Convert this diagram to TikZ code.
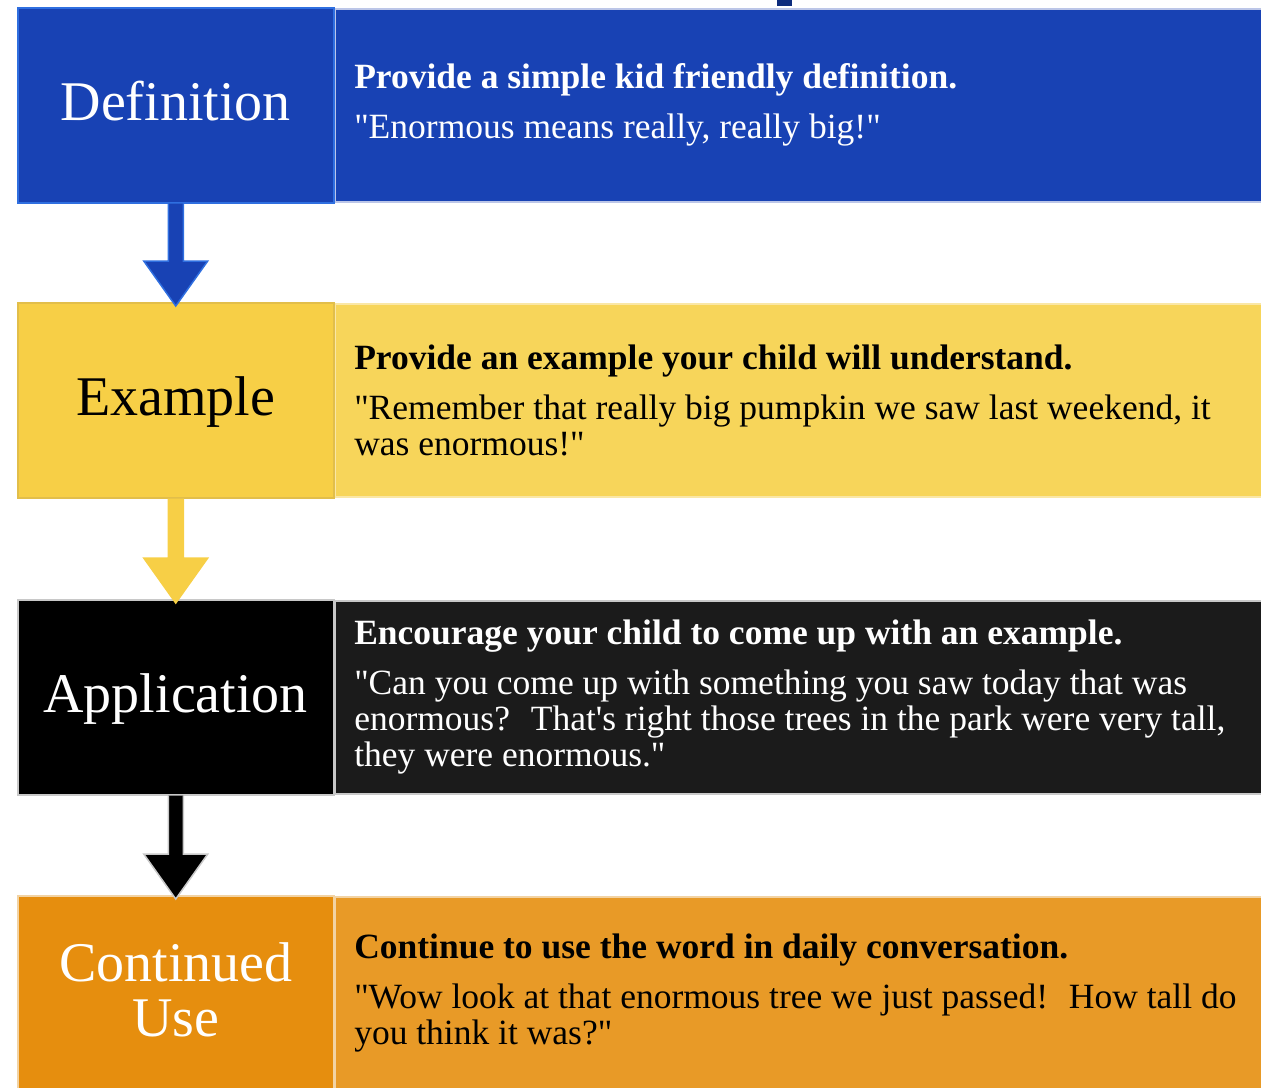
\documentclass[tikz,border=0pt]{standalone}
\usepackage{fontspec}
\setmainfont{Liberation Serif}[Ligatures=TeXOff]
\usetikzlibrary{positioning,calc}

\definecolor{defblue}{HTML}{1842B4}
\definecolor{defrim}{HTML}{2F6FE0}
\definecolor{defpale}{HTML}{BCC6E8}
\definecolor{exyellow}{HTML}{F7CF46}
\definecolor{exyellowtxt}{HTML}{F7D55A}
\definecolor{exrim}{HTML}{E2BE4A}
\definecolor{expale}{HTML}{FAE7A6}
\definecolor{appblack}{HTML}{000000}
\definecolor{appgrey}{HTML}{1B1B1B}
\definecolor{apprim}{HTML}{C8C8C8}
\definecolor{contorange}{HTML}{E68E0E}
\definecolor{contorangetxt}{HTML}{E89A27}
\definecolor{contpale}{HTML}{F2D3A4}
\definecolor{topnavy}{HTML}{0D2C7D}

\tikzset{
  namebox/.style 2 args={draw=#2, fill=#1, line width=1.5pt, anchor=north west,
    minimum width=316pt, minimum height=195pt, inner sep=0pt, align=flush center,
    text depth=8pt, font=\fontsize{56}{55}\selectfont},
  descbox/.style 2 args={draw=#2, fill=#1, line width=1.5pt,
    minimum height=193pt, inner xsep=19pt, inner ysep=0pt, text width=920pt,
    align=flush left, font=\fontsize{35.5}{36}\selectfont},
}

% block arrow between two step boxes: from, to, fill, rim
\newcommand{\steparrow}[4]{%
  \filldraw[fill=#3, draw=#4, line width=1.5pt, line join=miter]
    ($(#1.south)+(-7.5,0)$) -- ($(#2.north)+(-7.5,-41)$) -- ++(-24.5,0)
    -- ($(#2.north)+(0,4)$) -- ($(#2.north)+(32,-41)$) -- ++(-24.5,0)
    -- ($(#1.south)+(7.5,0)$);
}

\begin{document}
\begin{tikzpicture}[x=1pt,y=-1pt]

                \useasboundingbox (0,0) rectangle (1261,1087);
                \clip (0,0) rectangle (1261,1087);

                % mark at the top edge
                \fill[topnavy] (777,0) rectangle (792,6);

                % step names
                \node[namebox={defblue}{defrim}, text=white] (def) at (17,7) {Definition};
                \node[namebox={exyellow}{exrim}] (ex) at (17,302) {Example};
                \node[namebox={appblack}{apprim}, text=white] (app) at (17,599) {Application};
                \node[namebox={contorange}{contpale}, text=white] (cont) at (17,895) {Continued\\Use};

                % descriptions
                \node[descbox={defblue}{defpale}, text=white, right=0pt of def] (defTxt)
                    {\textbf{Provide a simple kid friendly definition.}\\[14pt]
                     "Enormous means really, really big!"};
                \node[descbox={exyellowtxt}{expale}, right=0pt of ex] (exTxt)
                    {\textbf{Provide an example your child will understand.}\\[14pt]
                     "Remember that really big pumpkin we saw last weekend, it\\
                     was enormous!"};
                \node[descbox={appgrey}{apprim}, text=white, right=0pt of app] (appTxt)
                    {\textbf{Encourage your child to come up with an example.}\\[14pt]
                     "Can you come up with something you saw today that was\\
                     enormous?\hspace{9pt} That's right those trees in the park were very tall,\\
                     they were enormous."};
                \node[descbox={contorangetxt}{contpale}, right=0pt of cont] (contTxt)
                    {\textbf{Continue to use the word in daily conversation.}\\[14pt]
                     "Wow look at that enormous tree we just passed!\hspace{9pt} How tall do\\
                     you think it was?"};

                % arrows
                \steparrow{def}{ex}{defblue}{defrim}
                \steparrow{ex}{app}{exyellow}{exyellow}
                \steparrow{app}{cont}{appblack}{apprim}

\end{tikzpicture}
\end{document}
